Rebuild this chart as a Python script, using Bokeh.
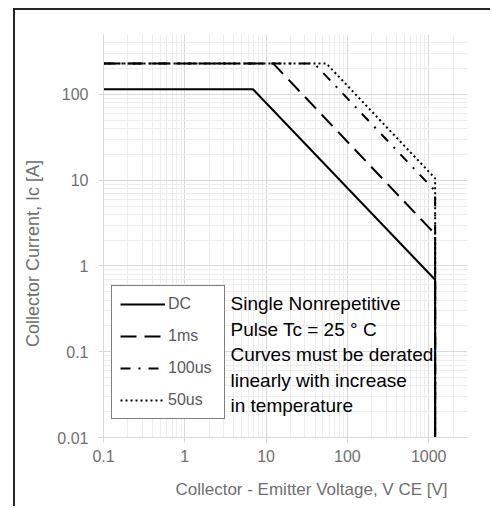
import math
from bokeh.plotting import figure
from bokeh.models import FixedTicker, CustomJSTickFormatter, Legend, LegendItem
from bokeh.embed import file_html
from bokeh.resources import INLINE
from bokeh.core.properties import value

# ---------------- data ----------------
x_ticks = [0.1, 1, 10, 100, 1000]
x_tick_labels = ["0.1", "1", "10", "100", "1000"]
y_ticks = [0.01, 0.1, 1, 10, 100]
y_tick_labels = ["0.01", "0.1", "1", "10", "100"]

dc_v = [0.1, 6.9, 1200, 1200]
dc_i = [115, 115, 0.69, 0.01]
ms1_v = [0.1, 12.2, 1200, 1200]
ms1_i = [230, 230, 2.35, 0.01]
us100_v = [0.1, 39, 1200, 1200]
us100_i = [230, 230, 7.5, 0.01]
us50_v = [0.1, 55, 1200, 1200]
us50_i = [230, 230, 10.5, 0.01]

series_labels = ["DC", "1ms", "100us", "50us"]

note_lines = ["Single Nonrepetitive", "Pulse Tc = 25 \u00b0 C", "Curves must be derated",
              "linearly with increase", "in temperature"]
x_title = "Collector - Emitter Voltage, V CE [V]"
y_title = "Collector Current, Ic [A]"

X_MIN, X_MAX = 0.1, 3000
Y_MIN, Y_MAX = 0.01, 500

# ---------------- layout ----------------
W, H = 477, 498
BL, BR, BT, BB = 88, 25, 24, 71
OX, OY = 15, 10  # canvas origin on page
FL, FR, FT, FB = OX + BL, OX + W - BR, OY + BT, OY + H - BB  # frame in page px


def px2x(px):
    f = (px - FL) / (FR - FL)
    a, b = math.log10(X_MIN), math.log10(X_MAX)
    return 10 ** (a + f * (b - a))


def py2y(py):
    f = (FB - py) / (FB - FT)
    a, b = math.log10(Y_MIN), math.log10(Y_MAX)
    return 10 ** (a + f * (b - a))


NB = "\u00a0"

p = figure(width=W, height=H, x_axis_type="log", y_axis_type="log",
           x_range=(X_MIN, X_MAX), y_range=(Y_MIN, Y_MAX),
           output_backend="svg", toolbar_location=None,
           min_border_left=BL, min_border_right=BR,
           min_border_top=BT, min_border_bottom=BB)
p.styles = {"margin-left": "13px", "margin-top": "8px",
            "border-top": "2px solid #262626", "border-left": "2px solid #262626"}
p.outline_line_color = None
p.background_fill_color = "white"
p.border_fill_color = "white"


def minors(lo_exp, hi_exp, vmax):
    out = []
    for e in range(lo_exp, hi_exp + 1):
        for m in range(2, 10):
            v = m * 10 ** e
            if v <= vmax * 1.0001:
                out.append(v)
    return out


x_minor = minors(-1, 3, X_MAX)
y_minor = minors(-2, 2, Y_MAX)

fmt_code = """
let best = 0;
for (let i = 0; i < tvals.length; i++) {
  if (Math.abs(Math.log10(tvals[i]) - Math.log10(tick)) <
      Math.abs(Math.log10(tvals[best]) - Math.log10(tick))) best = i;
}
return tlabs[best];
"""
p.xaxis.ticker = FixedTicker(ticks=x_ticks, minor_ticks=x_minor)
p.yaxis.ticker = FixedTicker(ticks=y_ticks, minor_ticks=y_minor)
p.xaxis.formatter = CustomJSTickFormatter(args=dict(tvals=x_ticks, tlabs=x_tick_labels), code=fmt_code)
p.yaxis.formatter = CustomJSTickFormatter(args=dict(tvals=y_ticks, tlabs=y_tick_labels), code=fmt_code)

for ax in (p.xaxis, p.yaxis):
    ax.axis_line_color = "#d9d9d9"
    ax.major_tick_line_color = "#d9d9d9"
    ax.major_tick_out = 5
    ax.major_tick_in = 0
    ax.minor_tick_line_color = None
    ax.major_label_text_font = "Liberation Sans"
    ax.major_label_text_font_size = "16px"
    ax.major_label_text_color = "#707070"
    ax.axis_label_text_font = "Liberation Sans"
    ax.axis_label_text_font_style = "normal"
    ax.axis_label_text_color = "#707070"
p.yaxis.major_label_standoff = 10
p.xaxis.major_label_standoff = 7

# axis titles (non-breaking padding shifts them along the axis as in the original)
p.xaxis.axis_label = NB * 11 + x_title
p.xaxis.axis_label_text_font_size = "17px"
p.xaxis.axis_label_standoff = 15
p.yaxis.axis_label = y_title + NB * 7
p.yaxis.axis_label_text_font_size = "18px"
p.yaxis.axis_label_standoff = 11

for g in (p.xgrid, p.ygrid):
    g.grid_line_color = "#d9d9d9"
    g.minor_grid_line_color = "#ededed"

r50 = p.line(us50_v, us50_i, line_color="black", line_width=2, line_dash="2 3")
r100 = p.line(us100_v, us100_i, line_color="black", line_width=2, line_dash="10 8 2 8")
r1 = p.line(ms1_v, ms1_i, line_color="black", line_width=2, line_dash="16 8")
rdc = p.line(dc_v, dc_i, line_color="black", line_width=2)

legend = Legend(items=[LegendItem(label=series_labels[0], renderers=[rdc]),
                       LegendItem(label=series_labels[1], renderers=[r1]),
                       LegendItem(label=series_labels[2], renderers=[r100]),
                       LegendItem(label=series_labels[3], renderers=[r50])],
                location=(8, 18), margin=0, padding=8, spacing=12,
                glyph_width=45, glyph_height=20, label_standoff=3, label_width=48,
                label_text_font="Liberation Sans", label_text_font_size="16px",
                label_text_color="#595959", border_line_color="black",
                border_line_width=1.5, background_fill_color="white",
                background_fill_alpha=1)
p.add_layout(legend, "center")

note_x = [px2x(230)] * len(note_lines)
note_y = [py2y(303 + 25.5 * i) for i in range(len(note_lines))]
p.text(note_x, note_y, text=note_lines, text_font_size="19px",
       text_font=value("Liberation Sans"), text_color="black",
       text_align="left", text_baseline="middle")

open("out.html", "w").write(file_html(p, INLINE))
